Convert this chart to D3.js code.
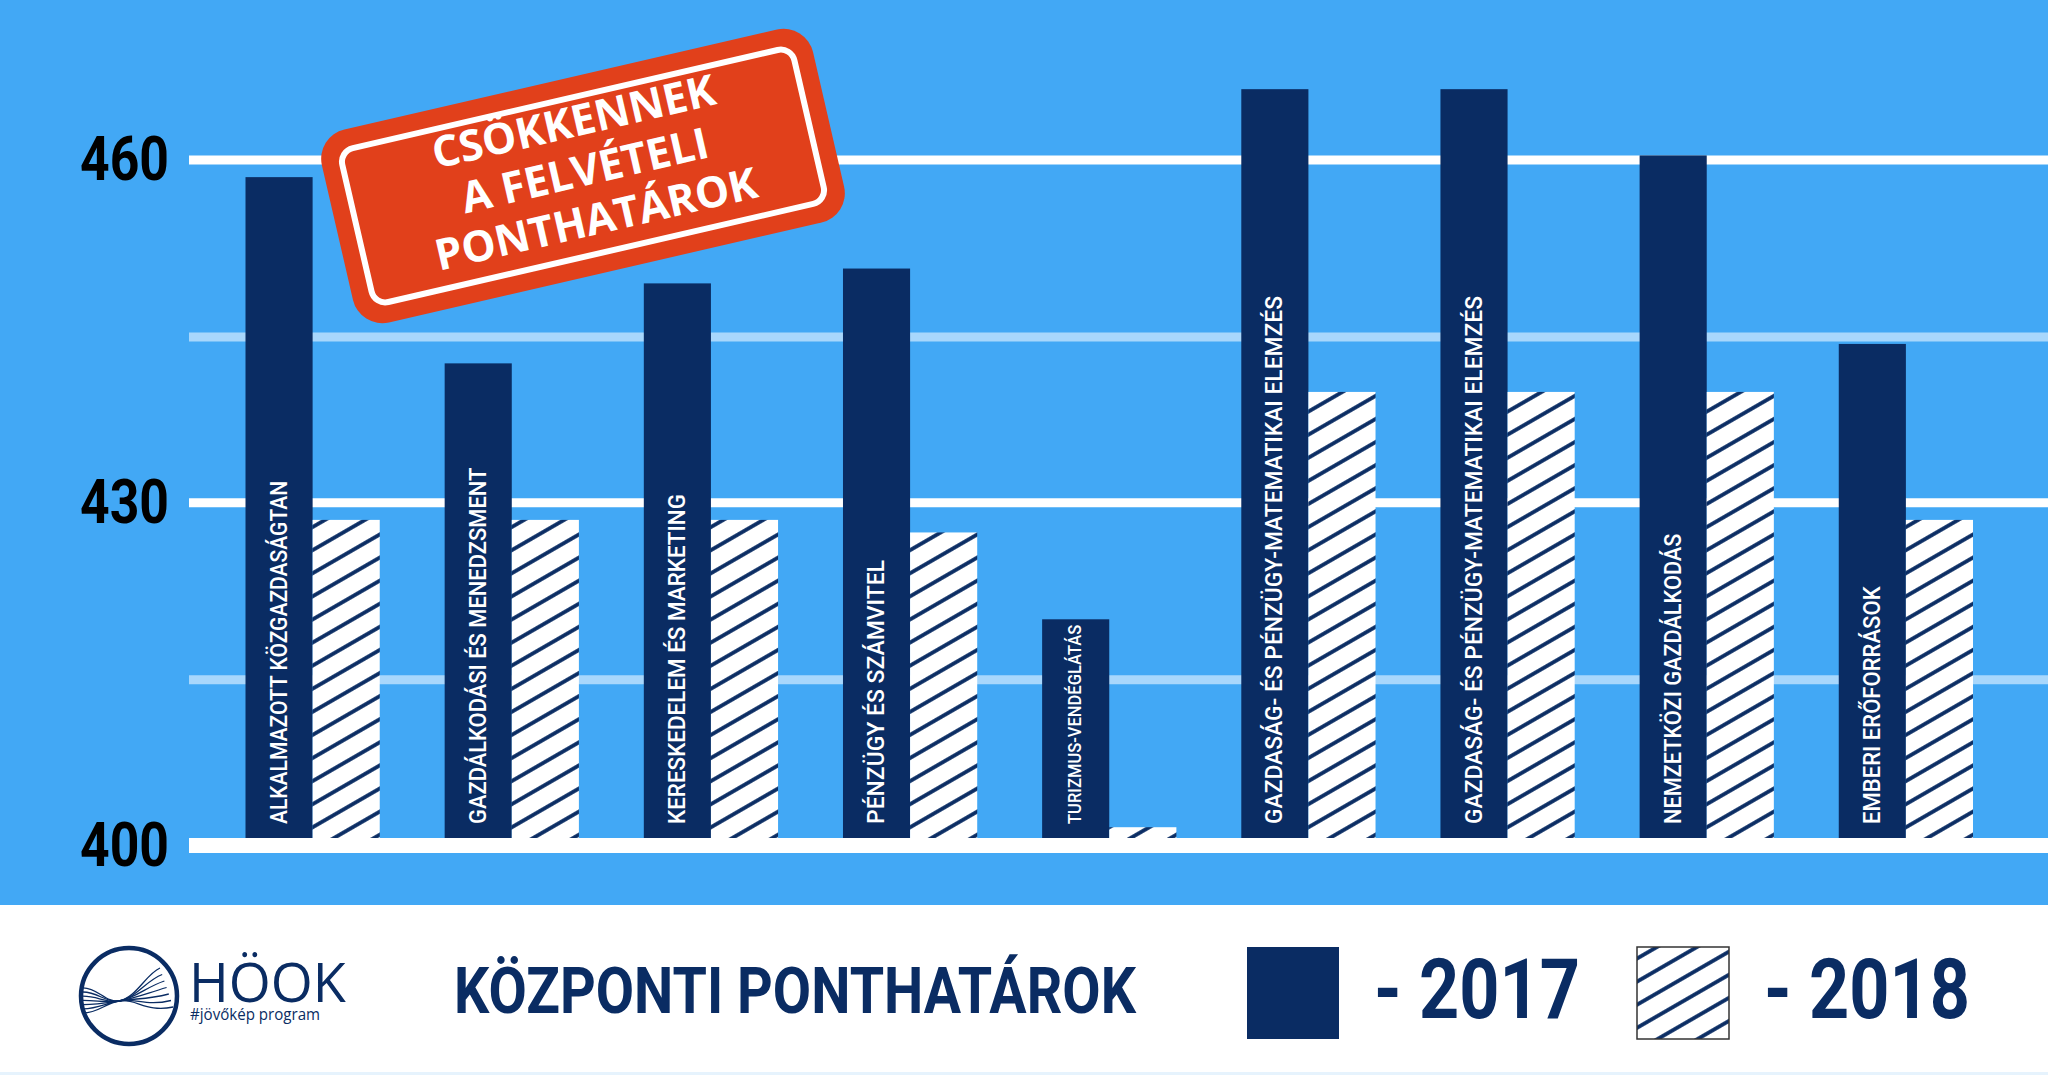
<!DOCTYPE html>
<html>
<head>
<meta charset="utf-8">
<script src="https://cdnjs.cloudflare.com/ajax/libs/d3/7.8.5/d3.min.js"></script>
<style>
  body { margin: 0; background: #fff; }
  svg { display: block; }
  .din { font-family: Roboto, "Noto Sans", sans-serif; }
</style>
</head>
<body>
<svg id="chart" width="2048" height="1075"></svg>
<script>

// values
var categories = [
  'ALKALMAZOTT KÖZGAZDASÁGTAN',
  'GAZDÁLKODÁSI ÉS MENEDZSMENT',
  'KERESKEDELEM ÉS MARKETING',
  'PÉNZÜGY ÉS SZÁMVITEL',
  'TURIZMUS-VENDÉGLÁTÁS',
  'GAZDASÁG- ÉS PÉNZÜGY-MATEMATIKAI ELEMZÉS',
  'GAZDASÁG- ÉS PÉNZÜGY-MATEMATIKAI ELEMZÉS',
  'NEMZETKÖZI GAZDÁLKODÁS',
  'EMBERI ERŐFORRÁSOK'
];
var years = ['2017', '2018'];
var values2017 = [458.5, 442.2, 449.2, 450.5, 419.8, 466.2, 466.2, 460.4, 443.9];
var values2018 = [428.5, 428.5, 428.5, 427.4, 401.6, 439.7, 439.7, 439.7, 428.5];
var majorTicks = [400, 430, 460];
var minorTicks = [414.5, 444.5];
var stampLines = ['CSÖKKENNEK', 'A FELVÉTELI', 'PONTHATÁROK'];
var footerTitle = 'KÖZPONTI PONTHATÁROK';

var navy = '#0a2c63',
    blue = '#42a8f5',
    minorBlue = '#a8d7fc',
    red = '#e1401b';

var svg = d3.select('#chart');

// background
svg.append('rect').attr('width', 2048).attr('height', 905).attr('fill', blue);
svg.append('rect').attr('y', 1072).attr('width', 2048).attr('height', 3).attr('fill', '#e6f3fd');

var defs = svg.append('defs');
var hatch = defs.append('pattern')
  .attr('id', 'hatch')
  .attr('patternUnits', 'userSpaceOnUse')
  .attr('width', 20).attr('height', 20)
  .attr('patternTransform', 'rotate(-30)');
hatch.append('rect').attr('width', 20).attr('height', 20).attr('fill', '#fff');
hatch.append('line')
  .attr('x1', -2).attr('x2', 22).attr('y1', 10).attr('y2', 10)
  .attr('stroke', navy).attr('stroke-width', 3.8);

// scales
var y = d3.scaleLinear().domain([400, 460]).range([845.5, 160]);
var x = d3.scaleBand().domain(d3.range(categories.length))
  .range([245.5, 1973]).paddingInner(0.326).paddingOuter(0);
var xSub = d3.scaleBand().domain(years).range([0, x.bandwidth()]);

// grid
svg.append('g').selectAll('line').data(minorTicks).enter().append('line')
  .attr('x1', 189).attr('x2', 2048)
  .attr('y1', function(d){ return y(d); })
  .attr('y2', function(d){ return y(d); })
  .attr('stroke', minorBlue).attr('stroke-width', 9);

svg.append('g').selectAll('line').data(majorTicks.filter(function(d){ return d !== 400; }))
  .enter().append('line')
  .attr('x1', 189).attr('x2', 2048)
  .attr('y1', function(d){ return y(d); })
  .attr('y2', function(d){ return y(d); })
  .attr('stroke', '#fff').attr('stroke-width', 9);

// tick labels
svg.append('g').selectAll('text').data(majorTicks).enter().append('text')
  .attr('class', 'din')
  .attr('x', 80)
  .attr('y', function(d){ return y(d) + 20; })
  .attr('font-size', 62)
  .attr('font-weight', 'bold')
  .attr('textLength', 89)
  .attr('lengthAdjust', 'spacingAndGlyphs')
  .attr('fill', '#000')
  .text(function(d){ return d; });

// bars
var groups = svg.append('g').selectAll('g').data(categories).enter().append('g')
  .attr('transform', function(d, i){ return 'translate(' + x(i) + ',0)'; });

groups.append('rect')
  .attr('x', xSub('2017'))
  .attr('width', xSub.bandwidth())
  .attr('y', function(d, i){ return y(values2017[i]); })
  .attr('height', function(d, i){ return y(400) - y(values2017[i]); })
  .attr('fill', navy);

groups.append('rect')
  .attr('x', xSub('2018'))
  .attr('width', xSub.bandwidth())
  .attr('y', function(d, i){ return y(values2018[i]); })
  .attr('height', function(d, i){ return y(400) - y(values2018[i]); })
  .attr('fill', 'url(#hatch)');

// labels inside the dark bars, squeezed when the bar is short
groups.append('text')
  .attr('class', 'din')
  .attr('transform', 'translate(' + (xSub('2017') + xSub.bandwidth() / 2 - 1) + ',824) rotate(-90)')
  .attr('fill', '#fff')
  .attr('font-weight', 500)
  .each(function(d, i){
    var room = y(400) - y(values2017[i]) - 27;
    var want = 13.2 * d.length;
    var k = Math.min(1, room / want);
    d3.select(this)
      .attr('font-size', 24 * k)
      .attr('dy', (0.36 * 24 * k) + 'px')
      .attr('textLength', want * k)
      .attr('lengthAdjust', 'spacingAndGlyphs');
  })
  .text(function(d){ return d; });

// baseline
svg.append('line')
  .attr('x1', 189).attr('x2', 2048)
  .attr('y1', y(400)).attr('y2', y(400))
  .attr('stroke', '#fff').attr('stroke-width', 15);

// stamp
var stamp = svg.append('g').attr('transform', 'translate(583,176) rotate(-13)');
stamp.append('rect')
  .attr('x', -252).attr('y', -99).attr('width', 504).attr('height', 198)
  .attr('rx', 30).attr('fill', red);
stamp.append('rect')
  .attr('x', -232).attr('y', -79).attr('width', 464).attr('height', 158)
  .attr('rx', 14).attr('fill', 'none')
  .attr('stroke', '#fff').attr('stroke-width', 6);
stamp.selectAll('text').data(stampLines).enter().append('text')
  .attr('x', 3)
  .attr('y', function(d, i){ return -40 + i * 50; })
  .attr('text-anchor', 'middle')
  .attr('font-family', '"Open Sans", Lato, sans-serif')
  .attr('font-weight', 'bold')
  .attr('font-size', 43)
  .attr('fill', '#fff')
  .text(function(d){ return d; });

// footer: logo
var logo = svg.append('g');
logo.append('circle')
  .attr('cx', 129).attr('cy', 996).attr('r', 48)
  .attr('fill', 'none').attr('stroke', navy).attr('stroke-width', 4.5);
d3.range(7).forEach(function(i){
  var p = d3.path();
  var ly = 1013 - i * 4.2, ex = 160 + i * 2.2, ey = 968 + i * 6.5;
  p.moveTo(83, ly);
  p.bezierCurveTo(98, ly, 106, 1003, 119, 1001);
  p.bezierCurveTo(136, 998, 146, ey + 6, ex, ey);
  logo.append('path').attr('d', p.toString())
    .attr('fill', 'none').attr('stroke', navy).attr('stroke-width', 1.3);
});
logo.append('text')
  .attr('x', 189).attr('y', 1002)
  .attr('font-family', '"Open Sans", sans-serif')
  .attr('font-size', 54).attr('font-weight', 500)
  .attr('fill', navy)
  .text('HÖOK');
logo.append('text')
  .attr('x', 190).attr('y', 1020)
  .attr('font-family', '"Open Sans", sans-serif')
  .attr('font-size', 16)
  .attr('textLength', 130)
  .attr('lengthAdjust', 'spacingAndGlyphs')
  .attr('fill', navy)
  .text('#jövőkép program');

// footer title
svg.append('text')
  .attr('class', 'din')
  .attr('x', 454).attr('y', 1013)
  .attr('font-size', 64).attr('font-weight', 'bold')
  .attr('textLength', 682)
  .attr('lengthAdjust', 'spacingAndGlyphs')
  .attr('fill', navy)
  .text(footerTitle);

// legend
var legend = svg.append('g').selectAll('g').data(years).enter().append('g')
  .attr('transform', function(d, i){ return 'translate(' + (1247 + i * 390) + ',947)'; });
legend.append('rect')
  .attr('width', 92).attr('height', 92)
  .attr('fill', function(d, i){ return i === 0 ? navy : 'url(#hatch)'; })
  .attr('stroke', function(d, i){ return i === 0 ? 'none' : '#333'; })
  .attr('stroke-width', 1.5);
legend.append('text')
  .attr('class', 'din')
  .attr('x', 127).attr('y', 71)
  .attr('font-size', 83).attr('font-weight', 'bold')
  .attr('textLength', 206)
  .attr('lengthAdjust', 'spacingAndGlyphs')
  .attr('fill', navy)
  .text(function(d){ return '- ' + d; });

</script>
</body>
</html>
